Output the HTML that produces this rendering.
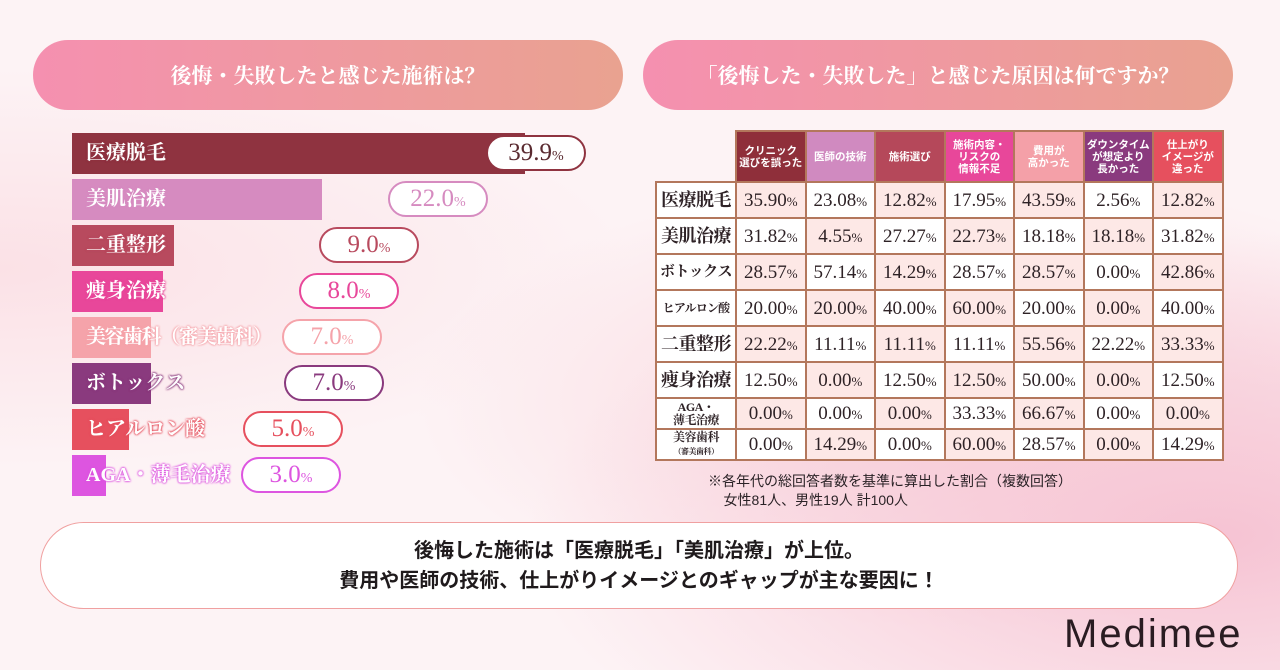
<!DOCTYPE html>
<html><head><meta charset="utf-8">
<style>
*{margin:0;padding:0;box-sizing:border-box}
body{width:1280px;height:670px;overflow:hidden;position:relative;font-family:"Liberation Serif","Noto Serif CJK SC",serif;
background:radial-gradient(ellipse at 95% 80%,#f6c3d3 0%,rgba(246,195,211,0) 40%),radial-gradient(ellipse at 0% 40%,#fbe1e6 0%,rgba(251,225,230,0) 35%),radial-gradient(ellipse at 75% 60%,#f9d6dd 0%,rgba(249,214,221,0) 40%),#fdf3f5;}
.hdr{position:absolute;top:40px;height:70px;border-radius:35px;background:linear-gradient(90deg,#f590b0,#e9a290);color:#fff;font-size:21px;font-weight:bold;display:flex;align-items:center;justify-content:center;}
.bar{position:absolute;left:72px;height:41px}
.lbl{position:absolute;left:86px;height:41px;line-height:41px;color:#fff;font-size:20px;font-weight:bold;white-space:nowrap}
.pill{position:absolute;width:100px;height:36px;border:2.5px solid;border-radius:18px;background:#fff;text-align:center;line-height:32px;font-size:25px}
.pill small{font-size:14px}
table{position:absolute;left:655px;top:130px;border-collapse:collapse;table-layout:fixed;width:567px}
td,th{border:2px solid #b3775c;text-align:center;color:#2e2226;font-size:19px;padding:0;line-height:1;white-space:nowrap;overflow:hidden}
th{color:#fff;font-size:10.5px;line-height:12px;font-weight:bold;height:51px;width:69.5px;font-family:"Liberation Sans","Noto Sans CJK JP",sans-serif}
td small{font-size:13px}
td.rl{width:80px;font-size:18px;font-weight:bold;letter-spacing:-0.5px}
</style></head><body>
<div class="hdr" style="left:33px;width:590px">後悔・失敗したと感じた施術は？</div>
<div class="hdr" style="left:643px;width:590px">「後悔した・失敗した」と感じた原因は何ですか？</div>
<div id="bars"></div>
<table id="tbl"></table>
<div style="position:absolute;left:708px;top:472px;font-family:'Liberation Sans','Noto Sans CJK JP',sans-serif;font-size:14px;line-height:19px;color:#2a2226">※各年代の総回答者数を基準に算出した割合（複数回答）<br>&nbsp;&nbsp;&nbsp;&nbsp;女性81人、男性19人 計100人</div>
<div style="position:absolute;left:40px;top:522px;width:1198px;height:87px;border:1.5px solid #f0a0a0;border-radius:44px;background:#fff;text-align:center;font-family:'Liberation Sans','Noto Sans CJK JP',sans-serif;font-weight:bold;font-size:20px;line-height:30px;padding-top:13px;color:#1f1a1c">後悔した施術は「医療脱毛」「美肌治療」が上位。<br>費用や医師の技術、仕上がりイメージとのギャップが主な要因に！</div>
<div style="position:absolute;left:1064px;top:612px;font-family:'Liberation Sans',sans-serif;font-size:40px;letter-spacing:2px;color:#2a1c22">Medimee</div>
<script>
const categories=["医療脱毛","美肌治療","二重整形","痩身治療","美容歯科（審美歯科）","ボトックス","ヒアルロン酸","AGA・薄毛治療"];
const values=[39.9,22.0,9.0,8.0,7.0,7.0,5.0,3.0];
const colors=["#8f3340","#d68bc0","#b84a5e","#e8479a","#f5a3aa","#8a3a7e","#e6505e","#dd55e0"];
const pillLeft=[486,388,319,299,282,284,243,241];
const xs=v=>v*11.35;
const bars=document.getElementById('bars');
values.forEach((v,i)=>{
 const y=133+i*46;
 const b=document.createElement('div');b.className='bar';
 
 
 b.style.top=y+'px';b.style.width=xs(v)+'px';b.style.background=colors[i];bars.appendChild(b);
 const l=document.createElement('div');l.className='lbl';
 
 
 l.style.top=y+'px';l.textContent=categories[i];
 if(i==4){l.style.letterSpacing='-1.5px';}
 l.style.textShadow='0 0 2px '+colors[i]+',0 0 2px '+colors[i]+',0 0 2px '+colors[i];bars.appendChild(l);
 const p=document.createElement('div');p.className='pill';
 
 
 p.style.top=(y+2)+'px';p.style.left=pillLeft[i]+'px';p.style.borderColor=colors[i];p.style.color=i==0?'#5a2a30':colors[i];
 p.innerHTML=v.toFixed(1)+'<small>%</small>';bars.appendChild(p);
});
const causes=["クリニック<br>選びを誤った","医師の技術","施術選び","施術内容・<br>リスクの<br>情報不足","費用が<br>高かった","ダウンタイム<br>が想定より<br>長かった","仕上がり<br>イメージが<br>違った"];
const causeColors=["#8f2f3a","#d08ac0","#b5485a","#e8479a","#f4a0a8","#8a3a7e","#e6505e"];
const rowLabels=["医療脱毛","美肌治療","ボトックス","ヒアルロン酸","二重整形","痩身治療","AGA・<br>薄毛治療","美容歯科<br><span style='font-size:8px'>（審美歯科）</span>"];
const r0=[35.90,23.08,12.82,17.95,43.59,2.56,12.82];
const r1=[31.82,4.55,27.27,22.73,18.18,18.18,31.82];
const r2=[28.57,57.14,14.29,28.57,28.57,0.00,42.86];
const r3=[20.00,20.00,40.00,60.00,20.00,0.00,40.00];
const r4=[22.22,11.11,11.11,11.11,55.56,22.22,33.33];
const r5=[12.50,0.00,12.50,12.50,50.00,0.00,12.50];
const r6=[0.00,0.00,0.00,33.33,66.67,0.00,0.00];
const r7=[0.00,14.29,0.00,60.00,28.57,0.00,14.29];
const rows=[r0,r1,r2,r3,r4,r5,r6,r7];
const t=document.getElementById('tbl');
let h='<colgroup><col style="width:80px">'+'<col style="width:69.5px">'.repeat(7)+'</colgroup>';
h+='<tr><th style="border:none;background:none"></th>';
causes.forEach((c,j)=>{h+='<th style="background:'+causeColors[j]+'">'+c+'</th>';});
h+='</tr>';
rows.forEach((r,i)=>{
 const ht=i<6?36:31;
 const fs=i==2?'font-size:15px;':(i==3?'font-size:12px;letter-spacing:-0.8px;':(i>=6?'font-size:12px;line-height:13px;':''));
 h+='<tr style="height:'+ht+'px"><td class="rl" style="'+fs+'background:#fff;height:'+ht+'px">'+rowLabels[i]+'</td>';
 r.forEach((v,j)=>{const bg=(i+j)%2?'#fff':'#fde8e6';h+='<td style="background:'+bg+';height:'+ht+'px">'+v.toFixed(2)+'<small>%</small></td>';});
 h+='</tr>';
});
t.innerHTML=h;
</script>
</body></html>
